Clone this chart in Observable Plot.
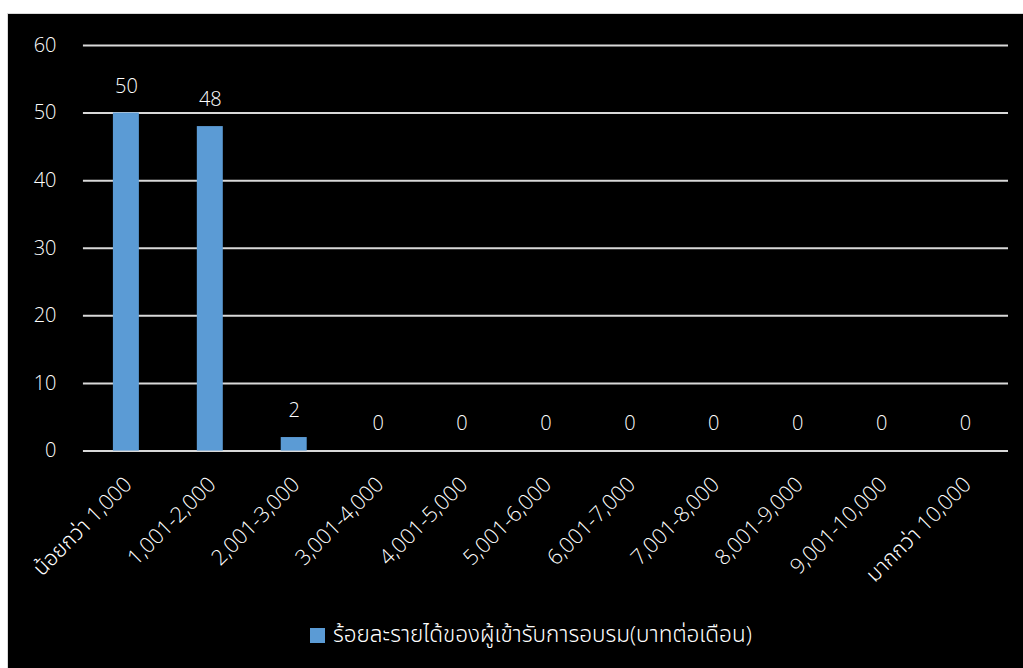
<!DOCTYPE html>
<html>
<head>
<meta charset="utf-8">
<script src="https://cdn.jsdelivr.net/npm/d3@7"></script>
<script src="https://cdn.jsdelivr.net/npm/@observablehq/plot@0.6"></script>
<style>
  html, body { margin: 0; padding: 0; background: #fff; width: 1023px; height: 668px; overflow: hidden; }
  #frame { position: absolute; left: 7px; top: 13px; width: 1016px; height: 655px; background: #000;
           border-left: 1px solid #d9d9d9; border-top: 1px solid #d9d9d9; box-sizing: border-box; }
  #chart svg { display: block; }
  #legend { position: absolute; left: 302px; top: 605px; white-space: nowrap; color: #fff;
            font-family: "Open Sans", "Noto Sans Thai", "Noto Sans Thai UI", "Noto Looped Thai", "Loma", "Garuda", "Waree", "Kinnari", "Norasi", sans-serif;
            font-weight: 300; font-size: 22.5px; line-height: 30px; }
  #legend .sw { display: inline-block; width: 15px; height: 15px; background: #5B9BD5; margin-right: 8px; vertical-align: -1px; }
</style>
</head>
<body>
<div id="frame">
  <div id="chart"></div>
  <div id="legend"></div>
</div>
<script>
const categories = ["น้อยกว่า 1,000", "1,001-2,000", "2,001-3,000", "3,001-4,000", "4,001-5,000",
  "5,001-6,000", "6,001-7,000", "7,001-8,000", "8,001-9,000", "9,001-10,000", "มากกว่า 10,000"];
const percents = [50, 48, 2, 0, 0, 0, 0, 0, 0, 0, 0];
const yTicks = [0, 10, 20, 30, 40, 50, 60];
const seriesName = "ร้อยละรายได้ของผู้เข้ารับการอบรม(บาทต่อเดือน)";

const data = categories.map((c, i) => ({cat: c, value: percents[i]}));
const font = '"Open Sans", "Noto Sans Thai", "Noto Sans Thai UI", "Noto Looped Thai", "Loma", "Garuda", "Waree", "Kinnari", "Norasi", sans-serif';

const chart = Plot.plot({
  width: 1016,
  height: 580,
  marginLeft: 75,
  marginRight: 15,
  marginTop: 31,
  marginBottom: 143,
  style: {background: "transparent", color: "#fff", fontFamily: font, fontSize: "20px", fontWeight: 300},
  x: {domain: categories, paddingInner: 0.69, paddingOuter: 0.345, label: null},
  y: {domain: [0, 60], label: null},
  marks: [
    Plot.gridY(yTicks, {stroke: "#d9d9d9", strokeOpacity: 1, strokeWidth: 2}),
    Plot.barY(data, {x: "cat", y: "value", fill: "#5B9BD5"}),
    Plot.text(data, {x: "cat", y: "value", text: d => String(d.value), dy: -27, fill: "#fff", fontSize: 20, fontWeight: 300}),
    Plot.axisY({ticks: yTicks, tickSize: 0, tickPadding: 27, fontSize: 20, fontWeight: 300, label: null}),
    Plot.axisX({tickSize: 0, tickPadding: 24, dx: -4, rotate: -45, textAnchor: "end", fontSize: 21.5, fontWeight: 300, label: null})
  ]
});
document.getElementById("chart").append(chart);

const lg = document.getElementById("legend");
const sw = document.createElement("span");
sw.className = "sw";
lg.append(sw, document.createTextNode(seriesName));
</script>
</body>
</html>
